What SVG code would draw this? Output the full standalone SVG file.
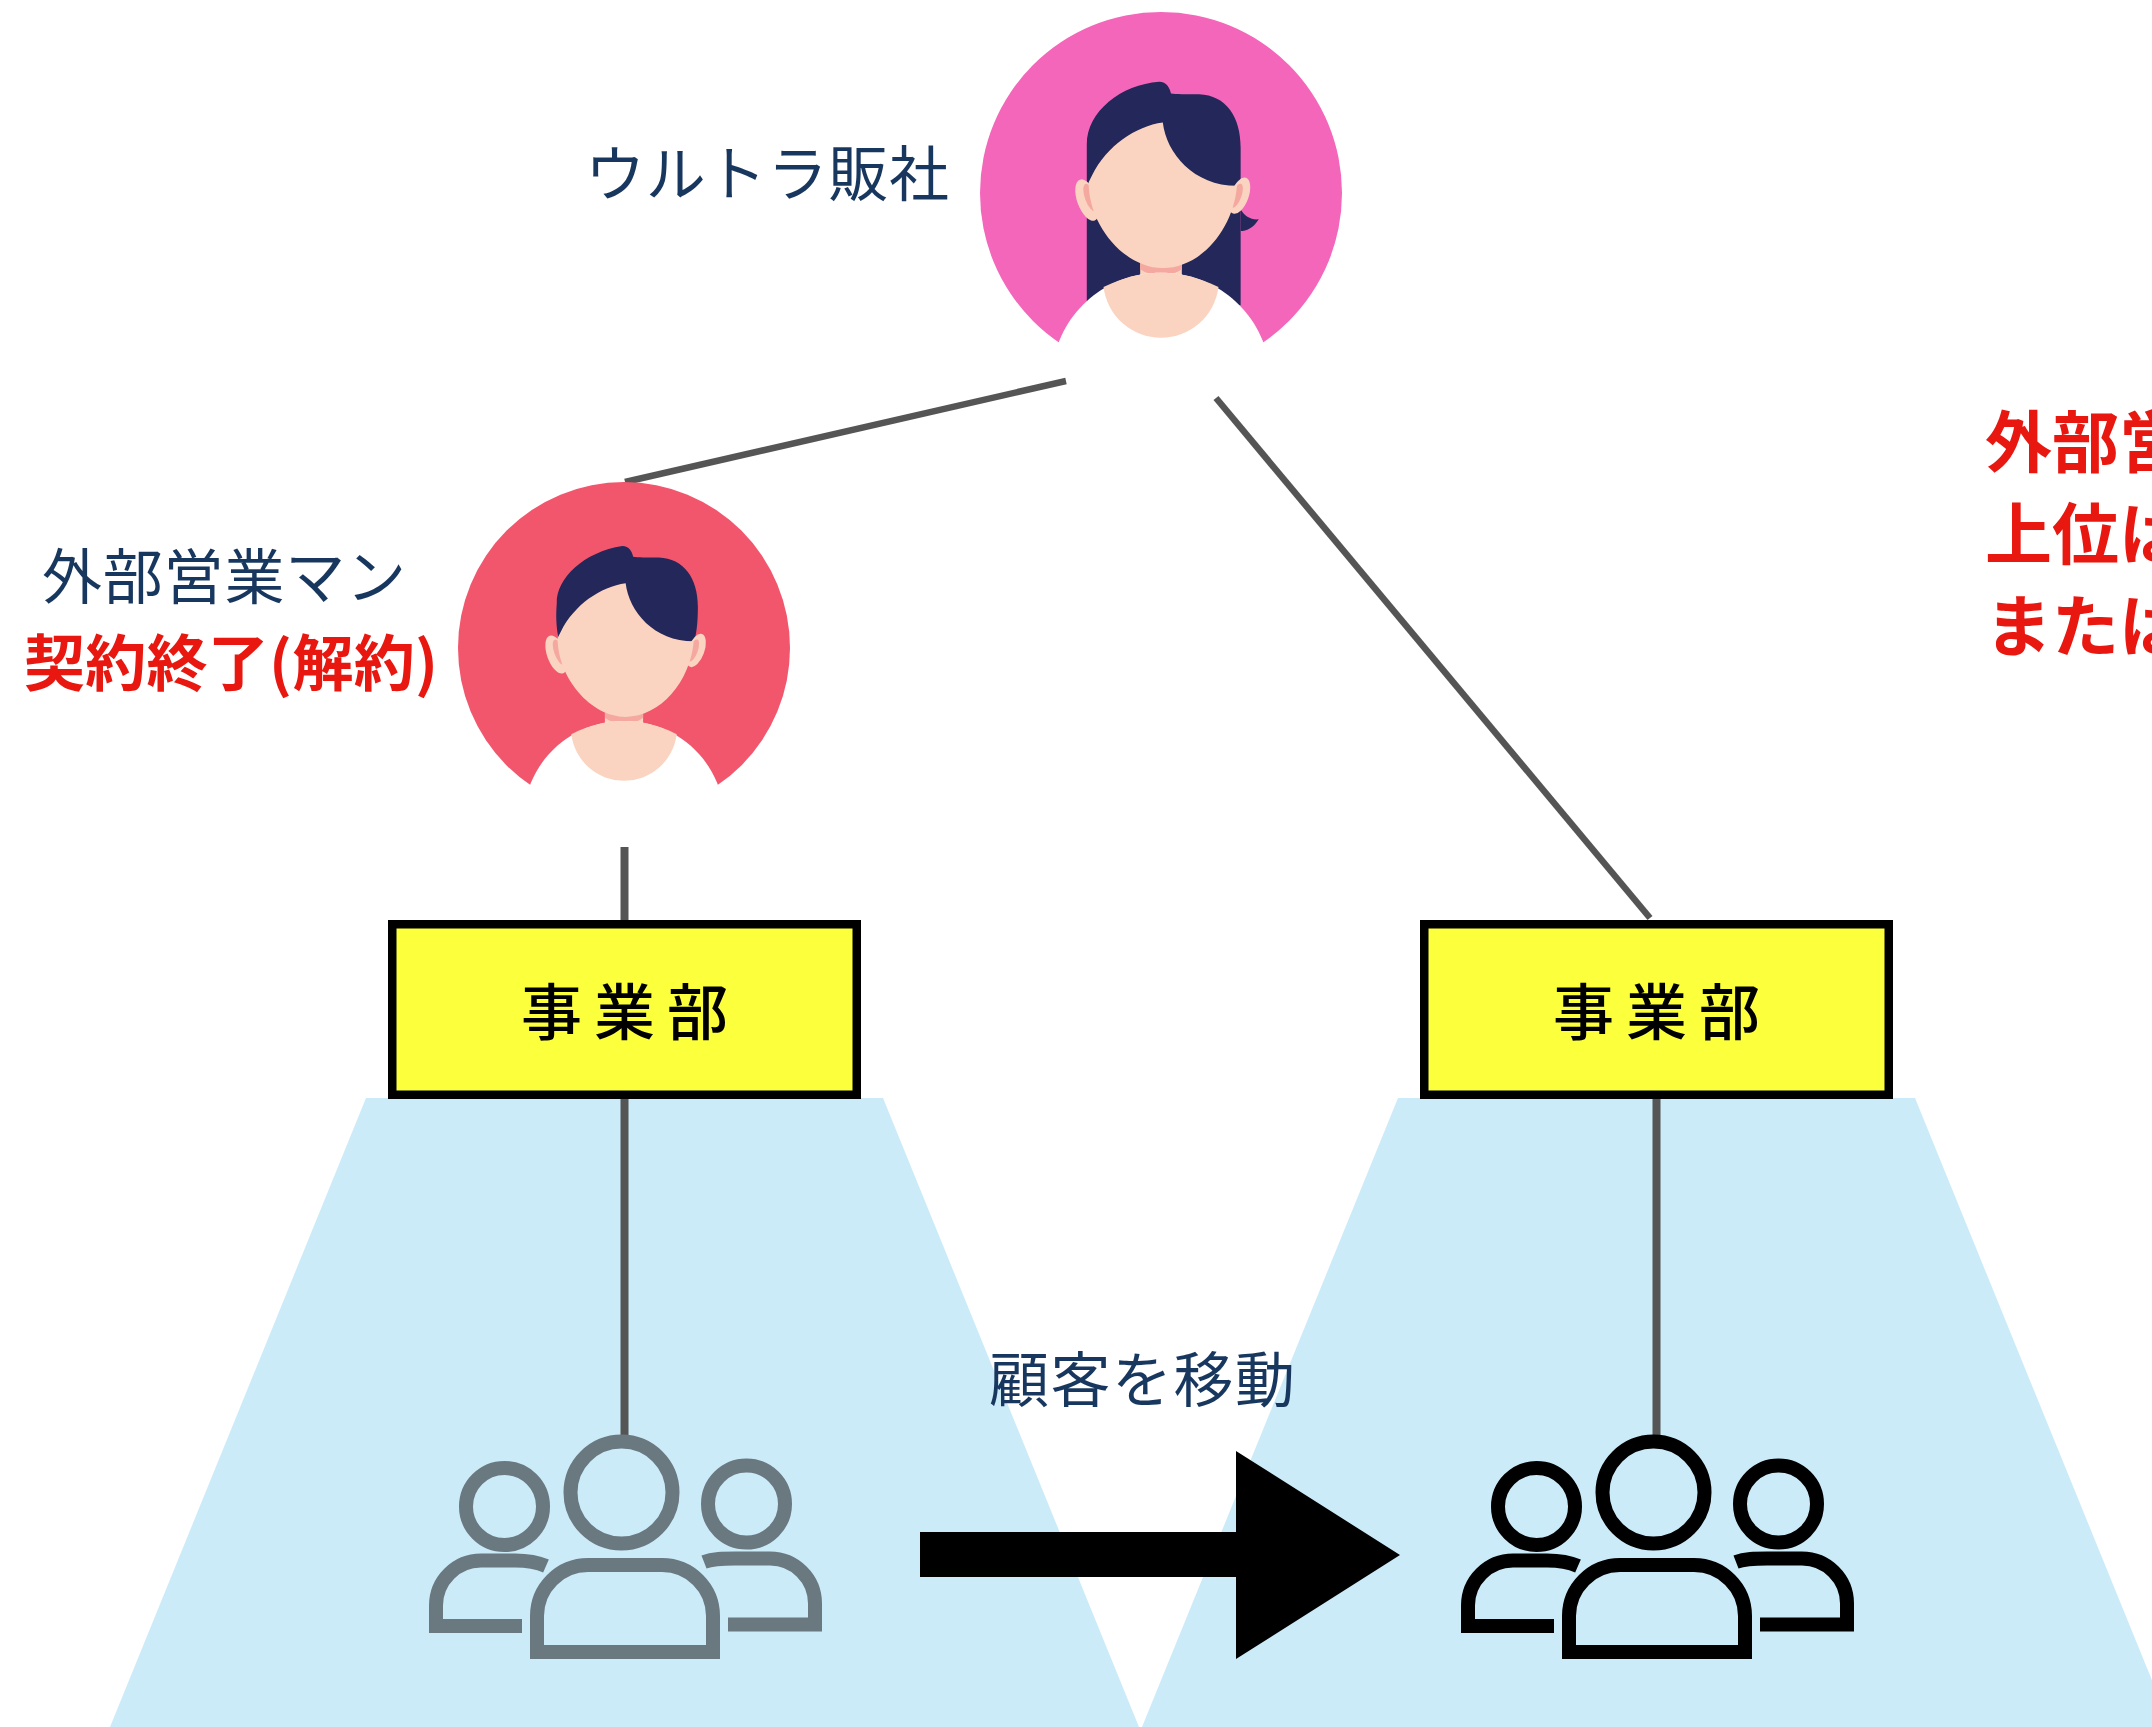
<svg xmlns="http://www.w3.org/2000/svg" xmlns:xlink="http://www.w3.org/1999/xlink" width="2152" height="1727" viewBox="0 0 2152 1727">
  <style>
    .jp { font-family: "Noto Sans CJK JP", "Noto Sans", sans-serif; }
    .label { font-size: 60px; fill: #18375F; font-weight: 400; }
    .alert { font-weight: 700; fill: #E8170F; }
    .dept-box { fill: #FBFF3C; stroke: #000; stroke-width: 8.5; }
    .dept-text { font-size: 61px; font-weight: 500; fill: #000; letter-spacing: 12px; }
    .area { fill: #CBEBF9; }
    .link { stroke: #555555; fill: none; }
    .skin { fill: #FAD4C0; }
    .blush { fill: #F5A8A0; }
    .hair { fill: #232759; }
  </style>
  <defs>
    <!-- shared face, ears, neck and shirt of the avatar, drawn on a 100-radius circle -->
    <g id="avatar-body">
      <ellipse class="skin" cx="-40.7" cy="3.9" rx="5.6" ry="12" transform="rotate(-20 -40.7 3.9)"/>
      <ellipse class="blush" cx="-39" cy="2.5" rx="3" ry="8" transform="rotate(-20 -39 2.5)"/>
      <ellipse class="skin" cx="43.4" cy="1.5" rx="5" ry="10.5" transform="rotate(20 43.4 1.5)"/>
      <ellipse class="blush" cx="41.8" cy="1.5" rx="2.6" ry="7" transform="rotate(20 41.8 1.5)"/>
      <rect class="skin" x="-11.5" y="25" width="23" height="28"/>
      <path class="blush" d="M-11.5,25 H11.5 V42 C6,46.5 -6,46.5 -11.5,42 Z"/>
      <path class="skin" d="M-38,-10 C-30,-26 -14,-37 1,-39 C3,-22 18,-4 42,-4 C40,20 22,41.5 1,41.5 C-20,41.5 -40,18 -40,-6 Z"/>
      <path fill="#FFFFFF" d="M-60,100 L-60,95 C-55,65 -30,44 0,44 C30,44 55,65 60,95 L60,100 Z"/>
      <path class="skin" d="M-31.75,52 C-20,46 -10,44 0,44 C10,44 20,46 31.75,52 A32,32 0 0 1 -31.75,52 Z"/>
    </g>
    <!-- group-of-people pictogram, stroked in the current colour -->
    <g id="people" fill="none" stroke="currentColor" stroke-width="14">
      <circle cx="621.5" cy="1492.5" r="51"/>
      <circle cx="504.5" cy="1506.5" r="38.5"/>
      <circle cx="746.5" cy="1504" r="38.5"/>
      <path d="M537,1652 V1616 A51,51 0 0 1 588,1565 H662 A51,51 0 0 1 713,1616 V1652 Z"/>
      <path d="M546,1566 C537,1562 527,1560.5 515,1560.5 H481 A45,45 0 0 0 436,1605.5 V1626 H522"/>
      <path d="M704,1562 C713,1558.5 723,1558.5 735,1558.5 H770 A45,45 0 0 1 815,1603.5 V1624.5 H728"/>
    </g>
  </defs>

  <rect width="2152" height="1727" fill="#FFFFFF"/>

  <!-- customer areas below each division -->
  <g id="areas">
    <polygon class="area" points="366,1098 883,1098 1139,1727 110,1727"/>
    <polygon class="area" points="1398,1098 1915,1098 2171,1727 1142,1727"/>
  </g>

  <!-- connectors -->
  <g id="connectors">
    <line class="link" x1="625" y1="482" x2="1066" y2="381" stroke-width="6.5"/>
    <line class="link" x1="1216" y1="398" x2="1650" y2="918" stroke-width="6.5"/>
    <line class="link" x1="624.5" y1="847" x2="624.5" y2="921" stroke-width="8"/>
    <line class="link" x1="624.5" y1="1098" x2="624.5" y2="1436" stroke-width="8"/>
    <line class="link" x1="1656.5" y1="1098" x2="1656.5" y2="1436" stroke-width="8"/>
    <polygon fill="#000" points="920,1532 1236,1532 1236,1451 1400,1555 1236,1659 1236,1577 920,1577"/>
  </g>

  <!-- division on the left -->
  <g id="dept-left">
    <rect class="dept-box" x="392.25" y="924.25" width="464.5" height="170.5"/>
    <text class="jp dept-text" x="521" y="1035">事業部</text>
  </g>

  <!-- division on the right -->
  <g id="dept-right">
    <rect class="dept-box" x="1424.25" y="924.25" width="464.5" height="170.5"/>
    <text class="jp dept-text" x="1553" y="1035">事業部</text>
  </g>

  <!-- customers -->
  <g id="customers-left">
    <use xlink:href="#people" href="#people" style="color:#6A7880"/>
  </g>
  <g id="customers-right">
    <use xlink:href="#people" href="#people" transform="translate(1032 0)" style="color:#000000"/>
  </g>

  <!-- reseller (top) -->
  <g id="reseller" transform="translate(1161 193) scale(1.81)">
    <circle r="100" fill="#F366BA"/>
    <path class="hair" d="M-41,62 V-27 C-41,-45 -22,-60 -1,-61.5 C3,-61.5 5,-58 5.5,-55 C8,-54.6 14,-54.5 21,-54.5 C36,-54 44,-42 44,-25 V62 Z"/>
    <path class="hair" d="M44,9 C46,13 50,15 54,14.5 C51,19.5 47,21 44,21 Z"/>
    <use xlink:href="#avatar-body" href="#avatar-body"/>
  </g>
  <text class="jp label" x="585" y="196" textLength="364" lengthAdjust="spacing">ウルトラ販社</text>

  <!-- external salesperson -->
  <g id="salesperson" transform="translate(624 648) scale(1.66)">
    <circle r="100" fill="#F2566D"/>
    <path class="hair" d="M-39.5,-6 C-41,-14 -41,-20 -40.5,-27 C-41,-42 -24,-58 -1,-61.5 C3,-61.5 5,-58 5.5,-55 C8,-54.6 14,-54.5 21,-54.5 C36,-54 44.5,-42 44.5,-25 C44.5,-14 43.5,-8 42,-3 Z"/>
    <use xlink:href="#avatar-body" href="#avatar-body"/>
  </g>
  <text class="jp label" x="42" y="599" textLength="364" lengthAdjust="spacing">外部営業マン</text>
  <text class="jp alert" x="24" y="686" font-size="61" textLength="414" lengthAdjust="spacing">契約終了(解約)</text>

  <!-- move label -->
  <text class="jp label" x="989" y="1402" textLength="306" lengthAdjust="spacing">顧客を移動</text>

  <!-- note at the right edge -->
  <g id="note" class="jp alert" font-size="67">
    <text x="1985" y="467">外部営</text>
    <text x="1985" y="559">上位は</text>
    <text x="1985" y="651">または</text>
  </g>
</svg>
